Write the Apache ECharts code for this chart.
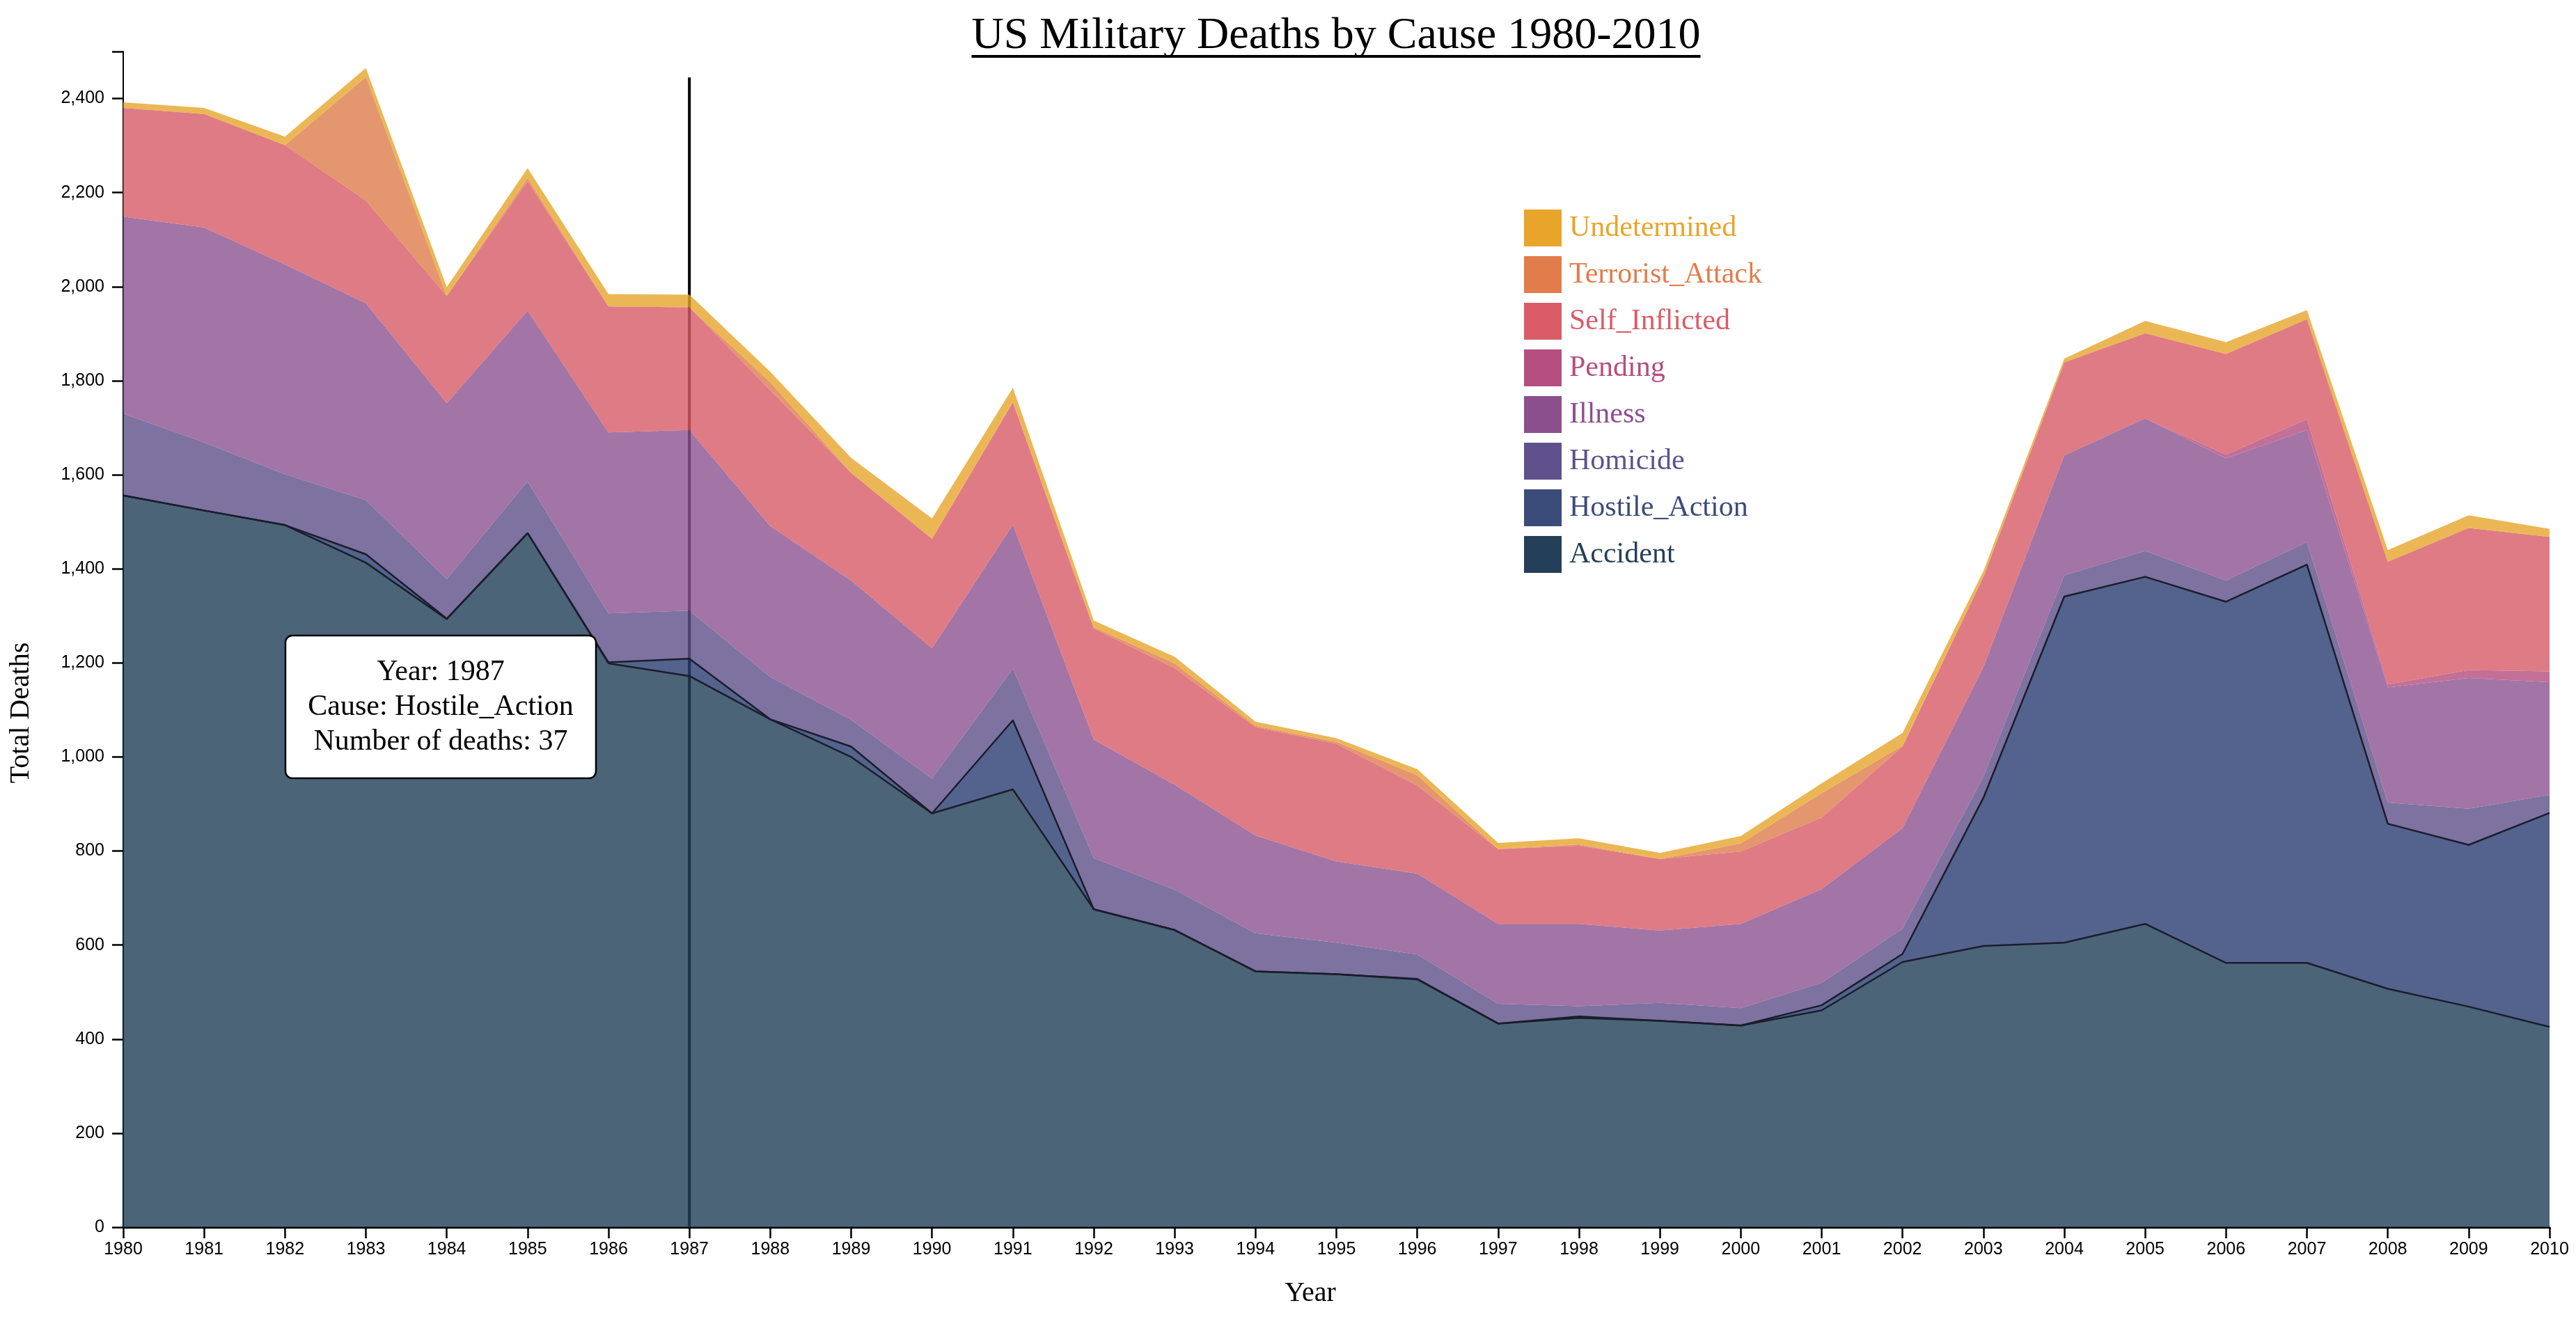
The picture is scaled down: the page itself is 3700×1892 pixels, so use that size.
<!DOCTYPE html>
<html><head><meta charset="utf-8">
<script src="https://cdn.jsdelivr.net/npm/echarts/dist/echarts.min.js"></script>
<style>html,body{margin:0;padding:0;background:#fff}#c{width:3700px;height:1892px}</style>
</head><body><div id="c"></div>
<script>
const years = ['1980','1981','1982','1983','1984','1985','1986','1987','1988','1989','1990','1991','1992','1993','1994','1995','1996','1997','1998','1999','2000','2001','2002','2003','2004','2005','2006','2007','2008','2009','2010'];
const accident      = [1556,1524,1493,1413,1293,1476,1199,1172,1080,1000,880,931,676,632,544,538,527,433,445,439,429,461,564,598,605,645,562,562,507,469,426];
const hostileAction = [0,0,0,18,1,0,2,37,0,22,0,147,0,0,0,0,1,0,3,0,0,11,17,315,736,738,768,847,351,344,455];
const homicide      = [174,145,108,115,84,110,104,102,90,57,74,110,109,86,81,67,52,42,22,38,37,48,54,45,45,55,45,48,45,77,38];
const illness       = [419,457,446,419,374,363,385,384,321,296,277,306,252,223,208,173,172,170,175,154,179,199,214,233,255,282,260,238,245,278,240];
const pending       = [0,0,0,0,0,0,0,0,0,0,0,0,0,0,0,0,0,0,0,0,0,0,0,0,0,0,8,23,6,17,23];
const selfInflicted = [231,241,254,218,228,275,268,261,289,229,233,260,236,248,230,250,187,159,166,152,154,152,173,192,198,181,214,213,261,302,286];
const terrorist     = [0,0,0,263,0,7,0,0,17,0,0,1,3,10,3,4,22,0,3,0,17,52,2,0,0,0,0,0,0,0,0];
const undetermined  = [12,13,18,19,19,21,26,27,22,32,43,30,14,14,9,8,13,13,13,13,16,21,27,12,8,26,25,19,25,27,17];

const causes = ['Accident','Hostile_Action','Homicide','Illness','Pending','Self_Inflicted','Terrorist_Attack','Undetermined'];
const causeData = [accident, hostileAction, homicide, illness, pending, selfInflicted, terrorist, undetermined];
const areaColors = ['#1f3d56','#283c70','#5e4f88','#8b5290','#b44c7e','#d75a66','#dd7c4a','#e6a52a'];
const legendColors = ['#243f58','#3b4b7a','#5f528c','#8c4f8e','#b54e7f','#da5c68','#e27c4b','#e8a52a'];

const TITLE = 'US Military Deaths by Cause 1980-2010';
const hoverYear = '1987';
const hoverCause = 'Hostile_Action';
const SERIF = '"Liberation Serif","Times New Roman",serif';
const SANS = '"Liberation Sans",Arial,sans-serif';

const chart = echarts.init(document.getElementById('c'), null, {renderer:'canvas'});

const series = causes.map((name, i) => ({
  name: name,
  type: 'line',
  stack: 'total',
  data: causeData[i],
  symbol: 'none',
  color: areaColors[i],
  itemStyle: {color: areaColors[i]},
  lineStyle: (i < 2) ? {color: '#1a1d2b', width: 2.5} : {width: 0, opacity: 0},
  areaStyle: {color: areaColors[i], opacity: 0.8},
  emphasis: {disabled: true},
  silent: true,
  z: 2
}));

const legendData = causes.slice().reverse().map(name => {
  const i = causes.indexOf(name);
  return {name: name, itemStyle: {color: legendColors[i], borderWidth: 0}, textStyle: {color: legendColors[i]}};
});

chart.setOption({
  animation: false,
  backgroundColor: '#ffffff',
  grid: {left: 177, right: 38, top: 74, bottom: 129},
  legend: {
    orient: 'vertical', left: 2189, top: 301, padding: 0,
    itemWidth: 54, itemHeight: 53, itemGap: 14, icon: 'rect',
    selectedMode: false,
    textStyle: {fontFamily: SERIF, fontSize: 42, padding: [0, 0, 0, 6]},
    data: legendData
  },
  xAxis: {
    type: 'category', data: years, boundaryGap: false,
    axisLine: {lineStyle: {color: '#000', width: 3}},
    axisTick: {length: 16, interval: 0, lineStyle: {color: '#000', width: 2.5}},
    axisLabel: {interval: 0, margin: 20, color: '#000', fontFamily: SANS, fontSize: 25},
    splitLine: {show: false}
  },
  yAxis: {
    type: 'value', min: 0, max: 2500, interval: 200,
    axisLine: {show: true, lineStyle: {color: '#000', width: 2}},
    axisTick: {show: true, length: 16, lineStyle: {color: '#000', width: 2.5}},
    axisLabel: {margin: 27, color: '#000', fontFamily: SANS, fontSize: 25,
      formatter: v => (v > 2400 ? '' : v.toLocaleString('en-US'))},
    splitLine: {show: false}
  },
  series: series
});

// graphic overlays
const hi = years.indexOf(hoverYear);
const hoverVal = causeData[causes.indexOf(hoverCause)][hi];
const pTop = chart.convertToPixel({gridIndex: 0}, [hoverYear, 2445]);
const pBot = chart.convertToPixel({gridIndex: 0}, [hoverYear, 0]);

const cv = document.createElement('canvas').getContext('2d');
cv.font = '64px ' + SERIF;
const tw = cv.measureText(TITLE).width;
const tcx = 1919;

chart.setOption({
  graphic: {elements: [
    {type: 'line', z: 0, zlevel: 0, shape: {x1: pTop[0], y1: pTop[1], x2: pBot[0], y2: pBot[1]},
     style: {stroke: '#000', lineWidth: 4}, silent: true},
    {type: 'text', z: 10, x: tcx, y: 52,
     style: {text: TITLE, fontFamily: SERIF, fontSize: 64, fill: '#000', textAlign: 'center', textVerticalAlign: 'middle'}},
    {type: 'line', z: 10, shape: {x1: tcx - tw / 2, y1: 81, x2: tcx + tw / 2, y2: 81},
     style: {stroke: '#000', lineWidth: 4}},
    {type: 'text', z: 10, x: 1882, y: 1858,
     style: {text: 'Year', fontFamily: SERIF, fontSize: 40, fill: '#000', textAlign: 'center', textVerticalAlign: 'middle'}},
    {type: 'text', z: 10, x: 30, y: 1024, rotation: Math.PI / 2,
     style: {text: 'Total Deaths', fontFamily: SERIF, fontSize: 40, fill: '#000', textAlign: 'center', textVerticalAlign: 'middle'}},
    {type: 'rect', z: 20, shape: {x: 410, y: 913, width: 446, height: 205, r: 10},
     style: {fill: '#fff', stroke: '#000', lineWidth: 2.5}},
    {type: 'text', z: 21, x: 633, y: 1016,
     style: {text: 'Year: ' + hoverYear + '\nCause: ' + hoverCause + '\nNumber of deaths: ' + hoverVal,
       fontFamily: SERIF, fontSize: 42, lineHeight: 50, fill: '#000', textAlign: 'center', textVerticalAlign: 'middle'}}
  ]}
});
</script>
</body></html>
